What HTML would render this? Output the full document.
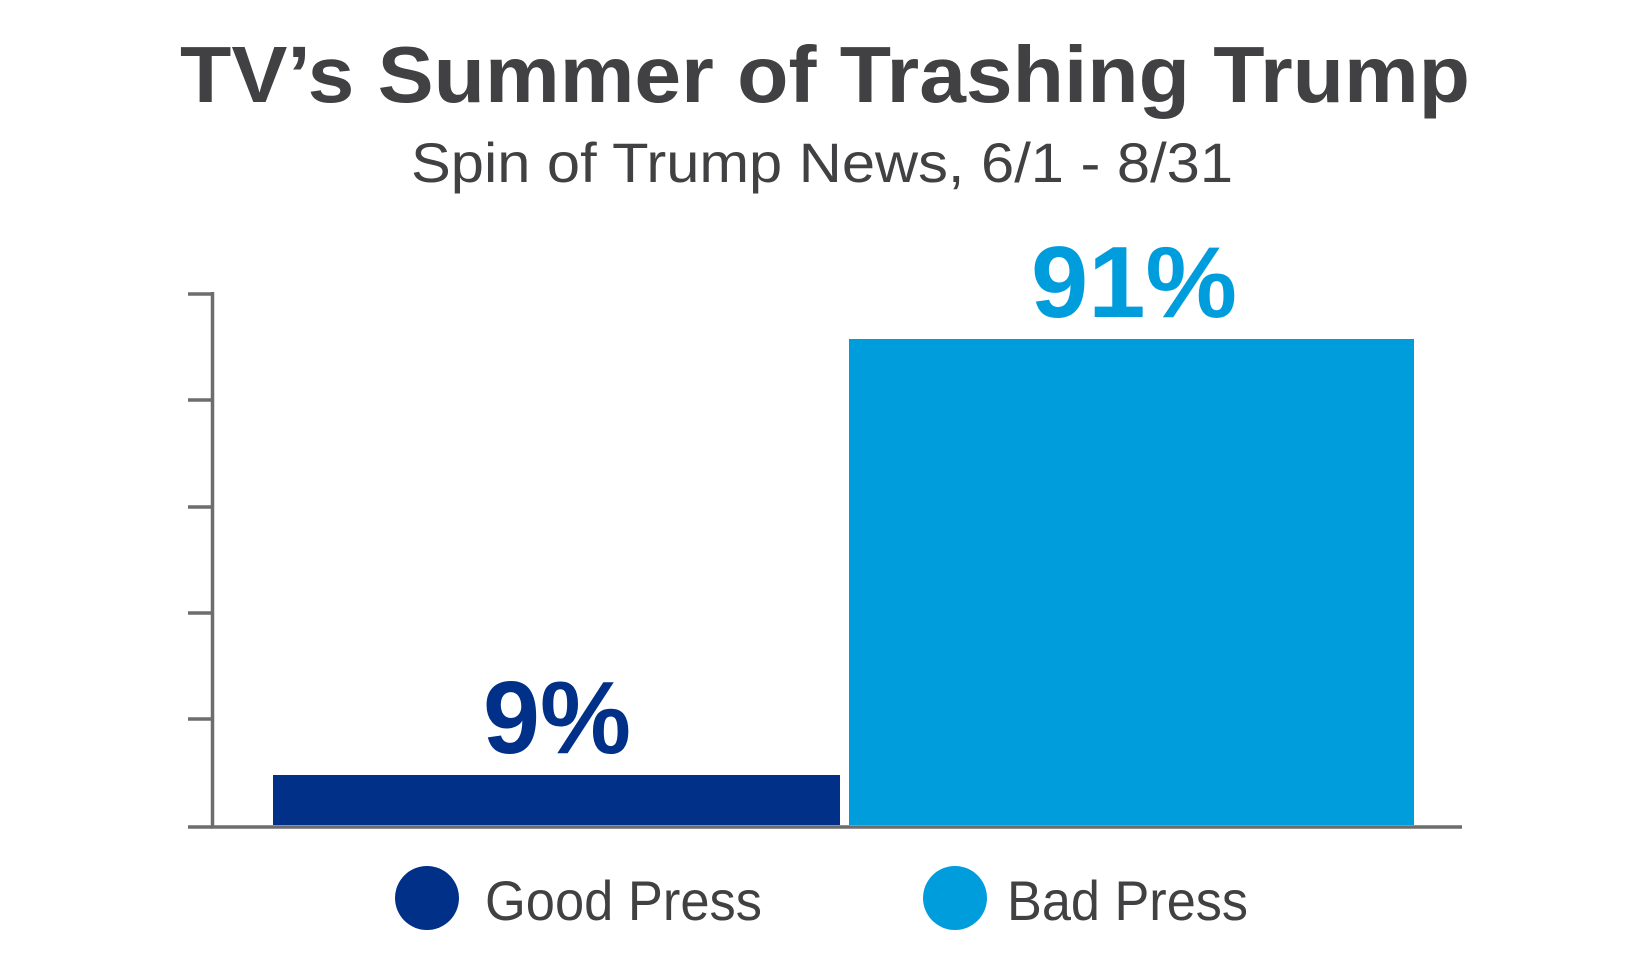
<!DOCTYPE html>
<html><head><meta charset="utf-8"><style>
html,body{margin:0;padding:0;background:#fff;}
svg{display:block;}
</style></head><body>
<svg width="1647" height="972" viewBox="0 0 1647 972" xmlns="http://www.w3.org/2000/svg">
<g font-family="Liberation Sans, DejaVu Sans, sans-serif">
<text x="180" y="102" font-size="80" font-weight="bold" fill="#414143" textLength="1290" lengthAdjust="spacingAndGlyphs">TV’s Summer of Trashing Trump</text>
<text x="411" y="182" font-size="56" fill="#414143" textLength="822" lengthAdjust="spacingAndGlyphs">Spin of Trump News, 6/1 - 8/31</text>
<g stroke="#6d6d6d" stroke-width="3.5" fill="none">
<line x1="212.5" y1="292" x2="212.5" y2="828"/>
<line x1="211" y1="827" x2="1462" y2="827"/>
<line x1="188" y1="294" x2="212" y2="294"/>
<line x1="188" y1="400" x2="212" y2="400"/>
<line x1="188" y1="507" x2="212" y2="507"/>
<line x1="188" y1="613" x2="212" y2="613"/>
<line x1="188" y1="719" x2="212" y2="719"/>
<line x1="188" y1="827" x2="212" y2="827"/>
</g>
<rect x="273" y="775" width="567" height="50" fill="#003087"/>
<rect x="849" y="339" width="565" height="486" fill="#009ddd"/>
<text x="483" y="753" font-size="103" font-weight="bold" fill="#003087" textLength="148" lengthAdjust="spacingAndGlyphs">9%</text>
<text x="1031" y="317" font-size="101" font-weight="bold" fill="#009ddd" textLength="206" lengthAdjust="spacingAndGlyphs">91%</text>
<circle cx="427" cy="898" r="32" fill="#003087"/>
<circle cx="955" cy="898" r="32" fill="#009ddd"/>
<text x="485" y="920" font-size="56" fill="#414143" textLength="277" lengthAdjust="spacingAndGlyphs">Good Press</text>
<text x="1007" y="920" font-size="56" fill="#414143" textLength="241" lengthAdjust="spacingAndGlyphs">Bad Press</text>
</g>
</svg>
</body></html>
